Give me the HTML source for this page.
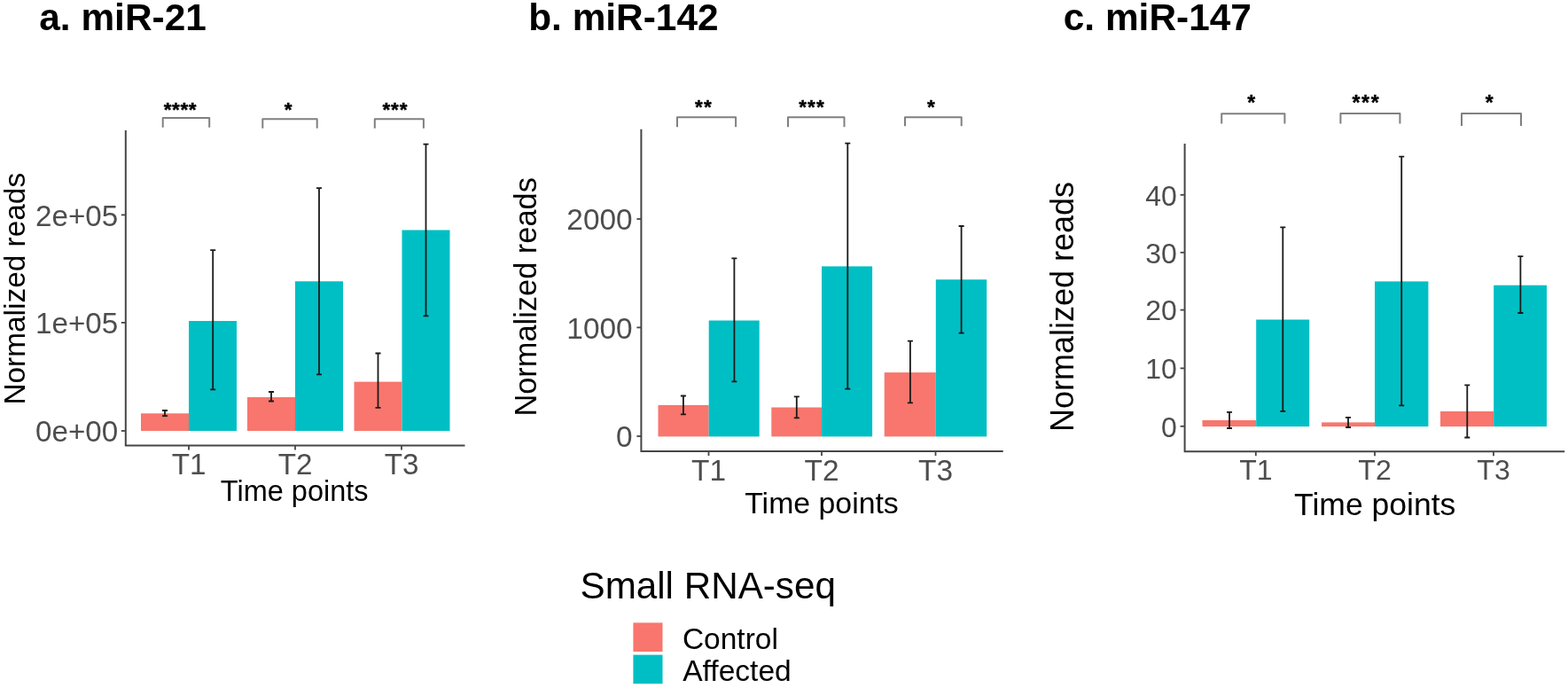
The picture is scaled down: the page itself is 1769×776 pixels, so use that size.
<!DOCTYPE html>
<html><head><meta charset="utf-8"><title>Small RNA-seq: miR-21, miR-142, miR-147</title>
<style>
html,body{margin:0;padding:0;background:#fff;}
body{width:1769px;height:776px;overflow:hidden;}
svg{display:block;font-family:'Liberation Sans', Arial, sans-serif;}
</style></head>
<body>
<svg width="1769" height="776" viewBox="0 0 1769 776">
<rect width="1769" height="776" fill="#fff"/>
<text x="44.3" y="33.8" font-size="42.4" font-weight="bold" fill="#000">a. miR-21</text>
<rect x="159" y="466.3" width="54" height="19.7" fill="#F8766D"/>
<rect x="213" y="362" width="54" height="124" fill="#00BFC4"/>
<rect x="279" y="448" width="54" height="38" fill="#F8766D"/>
<rect x="333" y="317.3" width="54" height="168.7" fill="#00BFC4"/>
<rect x="399.5" y="430.6" width="54" height="55.4" fill="#F8766D"/>
<rect x="453.5" y="259.5" width="54" height="226.5" fill="#00BFC4"/>
<path d="M186 463V469.1M183 463H189M183 469.1H189" stroke="#1a1a1a" stroke-width="1.8" fill="none"/>
<path d="M240.2 282.1V439.4M237.2 282.1H243.2M237.2 439.4H243.2" stroke="#1a1a1a" stroke-width="1.8" fill="none"/>
<path d="M306 442V452.5M303 442H309M303 452.5H309" stroke="#1a1a1a" stroke-width="1.8" fill="none"/>
<path d="M360 212.2V422.3M357 212.2H363M357 422.3H363" stroke="#1a1a1a" stroke-width="1.8" fill="none"/>
<path d="M426.5 398.5V459.9M423.5 398.5H429.5M423.5 459.9H429.5" stroke="#1a1a1a" stroke-width="1.8" fill="none"/>
<path d="M480.5 162.6V356.3M477.5 162.6H483.5M477.5 356.3H483.5" stroke="#1a1a1a" stroke-width="1.8" fill="none"/>
<path d="M141.8 147V502.4H524.5" stroke="#454545" stroke-width="2" fill="none"/>
<path d="M136.8 242.4H141.8" stroke="#454545" stroke-width="1.8"/>
<text x="133.2" y="254.62" font-size="33.2" fill="#4D4D4D" text-anchor="end">2e+05</text>
<path d="M136.8 363.9H141.8" stroke="#454545" stroke-width="1.8"/>
<text x="133.2" y="376.12" font-size="33.2" fill="#4D4D4D" text-anchor="end">1e+05</text>
<path d="M136.8 486H141.8" stroke="#454545" stroke-width="1.8"/>
<text x="133.2" y="498.22" font-size="33.2" fill="#4D4D4D" text-anchor="end">0e+00</text>
<path d="M213 502.4V507.4" stroke="#454545" stroke-width="1.8"/>
<text x="213" y="534.6" font-size="33.2" fill="#4D4D4D" text-anchor="middle">T1</text>
<path d="M333 502.4V507.4" stroke="#454545" stroke-width="1.8"/>
<text x="333" y="534.6" font-size="33.2" fill="#4D4D4D" text-anchor="middle">T2</text>
<path d="M453 502.4V507.4" stroke="#454545" stroke-width="1.8"/>
<text x="453" y="534.6" font-size="33.2" fill="#4D4D4D" text-anchor="middle">T3</text>
<text x="332.2" y="565" font-size="32.5" fill="#000" text-anchor="middle">Time points</text>
<text transform="translate(27.6 325.75) rotate(-90)" x="0" y="0" font-size="33.4" fill="#000" text-anchor="middle">Normalized reads</text>
<path d="M183.7 143.8V133.1H236.2V143.8" stroke="#808080" stroke-width="2" stroke-linejoin="round" fill="none"/>
<path d="M296.3 144.8V134.3H357.7V144.8" stroke="#808080" stroke-width="2" stroke-linejoin="round" fill="none"/>
<path d="M422.8 144.8V134.3H477.9V144.8" stroke="#808080" stroke-width="2" stroke-linejoin="round" fill="none"/>
<text x="184.63" y="130.83" font-size="22.5" font-weight="bold" letter-spacing="0.62" fill="#000" stroke="#000" stroke-width="0.4" stroke-linejoin="round">****</text>
<text x="320.73" y="130.83" font-size="22.5" font-weight="bold" letter-spacing="0" fill="#000" stroke="#000" stroke-width="0.4" stroke-linejoin="round">*</text>
<text x="431.43" y="130.83" font-size="22.5" font-weight="bold" letter-spacing="0.9" fill="#000" stroke="#000" stroke-width="0.4" stroke-linejoin="round">***</text>
<text x="596.2" y="34" font-size="42.4" font-weight="bold" fill="#000">b. miR-142</text>
<rect x="742.5" y="456.9" width="57.2" height="35.5" fill="#F8766D"/>
<rect x="799.7" y="361.5" width="57" height="130.9" fill="#00BFC4"/>
<rect x="870.3" y="459.5" width="56.7" height="32.9" fill="#F8766D"/>
<rect x="927" y="300.4" width="57.1" height="192" fill="#00BFC4"/>
<rect x="997.7" y="420.1" width="58.1" height="72.3" fill="#F8766D"/>
<rect x="1055.8" y="315.3" width="57.4" height="177.1" fill="#00BFC4"/>
<path d="M770.9 446.5V467.3M767.9 446.5H773.9M767.9 467.3H773.9" stroke="#1a1a1a" stroke-width="1.8" fill="none"/>
<path d="M828.4 291.3V430.4M825.4 291.3H831.4M825.4 430.4H831.4" stroke="#1a1a1a" stroke-width="1.8" fill="none"/>
<path d="M898.8 447.3V471.3M895.8 447.3H901.8M895.8 471.3H901.8" stroke="#1a1a1a" stroke-width="1.8" fill="none"/>
<path d="M956.3 161.6V438.6M953.3 161.6H959.3M953.3 438.6H959.3" stroke="#1a1a1a" stroke-width="1.8" fill="none"/>
<path d="M1026.9 384.6V454.3M1023.9 384.6H1029.9M1023.9 454.3H1029.9" stroke="#1a1a1a" stroke-width="1.8" fill="none"/>
<path d="M1084.6 255V375.6M1081.6 255H1087.6M1081.6 375.6H1087.6" stroke="#1a1a1a" stroke-width="1.8" fill="none"/>
<path d="M723.4 145.8V509H1131.7" stroke="#454545" stroke-width="2" fill="none"/>
<path d="M718.4 247H723.4" stroke="#454545" stroke-width="1.8"/>
<text x="713.6" y="259.29" font-size="33.4" fill="#4D4D4D" text-anchor="end">2000</text>
<path d="M718.4 369.4H723.4" stroke="#454545" stroke-width="1.8"/>
<text x="713.6" y="381.69" font-size="33.4" fill="#4D4D4D" text-anchor="end">1000</text>
<path d="M718.4 492H723.4" stroke="#454545" stroke-width="1.8"/>
<text x="713.6" y="504.29" font-size="33.4" fill="#4D4D4D" text-anchor="end">0</text>
<path d="M799.5 509V514" stroke="#454545" stroke-width="1.8"/>
<text x="799.5" y="541.7" font-size="33.4" fill="#4D4D4D" text-anchor="middle">T1</text>
<path d="M927 509V514" stroke="#454545" stroke-width="1.8"/>
<text x="927" y="541.7" font-size="33.4" fill="#4D4D4D" text-anchor="middle">T2</text>
<path d="M1055.5 509V514" stroke="#454545" stroke-width="1.8"/>
<text x="1055.5" y="541.7" font-size="33.4" fill="#4D4D4D" text-anchor="middle">T3</text>
<text x="927" y="578.8" font-size="33.85" fill="#000" text-anchor="middle">Time points</text>
<text transform="translate(605.3 334.85) rotate(-90)" x="0" y="0" font-size="34.4" fill="#000" text-anchor="middle">Normalized reads</text>
<path d="M764 143.2V132.2H830.1V143.2" stroke="#808080" stroke-width="2" stroke-linejoin="round" fill="none"/>
<path d="M889 143.2V132.2H952.5V143.2" stroke="#808080" stroke-width="2" stroke-linejoin="round" fill="none"/>
<path d="M1021 142.3V132.2H1084.7V142.3" stroke="#808080" stroke-width="2" stroke-linejoin="round" fill="none"/>
<text x="783.93" y="128.33" font-size="22.5" font-weight="bold" letter-spacing="1.35" fill="#000" stroke="#000" stroke-width="0.4" stroke-linejoin="round">**</text>
<text x="901.23" y="128.33" font-size="22.5" font-weight="bold" letter-spacing="1.1" fill="#000" stroke="#000" stroke-width="0.4" stroke-linejoin="round">***</text>
<text x="1045.93" y="128.33" font-size="22.5" font-weight="bold" letter-spacing="0" fill="#000" stroke="#000" stroke-width="0.4" stroke-linejoin="round">*</text>
<text x="1199.8" y="34" font-size="42.4" font-weight="bold" fill="#000">c. miR-147</text>
<rect x="1356.5" y="474" width="60.7" height="7.1" fill="#F8766D"/>
<rect x="1417.2" y="360.5" width="60" height="120.6" fill="#00BFC4"/>
<rect x="1491.1" y="476.4" width="59.9" height="4.7" fill="#F8766D"/>
<rect x="1551" y="317.4" width="60.4" height="163.7" fill="#00BFC4"/>
<rect x="1625" y="463.9" width="60.2" height="17.2" fill="#F8766D"/>
<rect x="1685.2" y="321.7" width="59.8" height="159.4" fill="#00BFC4"/>
<path d="M1387 464.9V483M1384 464.9H1390M1384 483H1390" stroke="#1a1a1a" stroke-width="1.8" fill="none"/>
<path d="M1447.3 256.4V463.9M1444.3 256.4H1450.3M1444.3 463.9H1450.3" stroke="#1a1a1a" stroke-width="1.8" fill="none"/>
<path d="M1521 470.9V482M1518 470.9H1524M1518 482H1524" stroke="#1a1a1a" stroke-width="1.8" fill="none"/>
<path d="M1581.2 176.7V457.3M1578.2 176.7H1584.2M1578.2 457.3H1584.2" stroke="#1a1a1a" stroke-width="1.8" fill="none"/>
<path d="M1655.3 434.3V493.5M1652.3 434.3H1658.3M1652.3 493.5H1658.3" stroke="#1a1a1a" stroke-width="1.8" fill="none"/>
<path d="M1715.4 289.2V353M1712.4 289.2H1718.4M1712.4 353H1718.4" stroke="#1a1a1a" stroke-width="1.8" fill="none"/>
<path d="M1336.6 162.1V509.2H1765.2" stroke="#454545" stroke-width="2" fill="none"/>
<path d="M1331.6 219.8H1336.6" stroke="#454545" stroke-width="1.8"/>
<text x="1327.8" y="231.61" font-size="32.0" fill="#4D4D4D" text-anchor="end">40</text>
<path d="M1331.6 284.8H1336.6" stroke="#454545" stroke-width="1.8"/>
<text x="1327.8" y="296.61" font-size="32.0" fill="#4D4D4D" text-anchor="end">30</text>
<path d="M1331.6 349.6H1336.6" stroke="#454545" stroke-width="1.8"/>
<text x="1327.8" y="361.41" font-size="32.0" fill="#4D4D4D" text-anchor="end">20</text>
<path d="M1331.6 415.4H1336.6" stroke="#454545" stroke-width="1.8"/>
<text x="1327.8" y="427.21" font-size="32.0" fill="#4D4D4D" text-anchor="end">10</text>
<path d="M1331.6 480.8H1336.6" stroke="#454545" stroke-width="1.8"/>
<text x="1327.8" y="492.61" font-size="32.0" fill="#4D4D4D" text-anchor="end">0</text>
<path d="M1416.8 509.2V514.2" stroke="#454545" stroke-width="1.8"/>
<text x="1416.8" y="540.7" font-size="32.0" fill="#4D4D4D" text-anchor="middle">T1</text>
<path d="M1551 509.2V514.2" stroke="#454545" stroke-width="1.8"/>
<text x="1551" y="540.7" font-size="32.0" fill="#4D4D4D" text-anchor="middle">T2</text>
<path d="M1685 509.2V514.2" stroke="#454545" stroke-width="1.8"/>
<text x="1685" y="540.7" font-size="32.0" fill="#4D4D4D" text-anchor="middle">T3</text>
<text x="1551.2" y="580.8" font-size="35.5" fill="#000" text-anchor="middle">Time points</text>
<text transform="translate(1211.2 346) rotate(-90)" x="0" y="0" font-size="36.0" fill="#000" text-anchor="middle">Normalized reads</text>
<path d="M1378.2 139.6V128.2H1449.4V139.6" stroke="#808080" stroke-width="2" stroke-linejoin="round" fill="none"/>
<path d="M1512.4 139.6V128H1579.4V139.6" stroke="#808080" stroke-width="2" stroke-linejoin="round" fill="none"/>
<path d="M1649 142.1V128H1716V142.1" stroke="#808080" stroke-width="2" stroke-linejoin="round" fill="none"/>
<text x="1407.23" y="123.59" font-size="23" font-weight="bold" letter-spacing="0" fill="#000" stroke="#000" stroke-width="0.4" stroke-linejoin="round">*</text>
<text x="1525.43" y="123.59" font-size="23" font-weight="bold" letter-spacing="1.7" fill="#000" stroke="#000" stroke-width="0.4" stroke-linejoin="round">***</text>
<text x="1675.83" y="123.59" font-size="23" font-weight="bold" letter-spacing="0" fill="#000" stroke="#000" stroke-width="0.4" stroke-linejoin="round">*</text>

<text x="654.5" y="674.9" font-size="42.2" fill="#000">Small RNA-seq</text>
<rect x="714.4" y="702.4" width="33.1" height="32.6" fill="#F8766D"/>
<rect x="714.4" y="738.6" width="33.1" height="32.6" fill="#00BFC4"/>
<text x="769.9" y="731.6" font-size="33.5" fill="#000">Control</text>
<text x="770.2" y="768.3" font-size="33.6" fill="#000">Affected</text>

</svg>
</body></html>
